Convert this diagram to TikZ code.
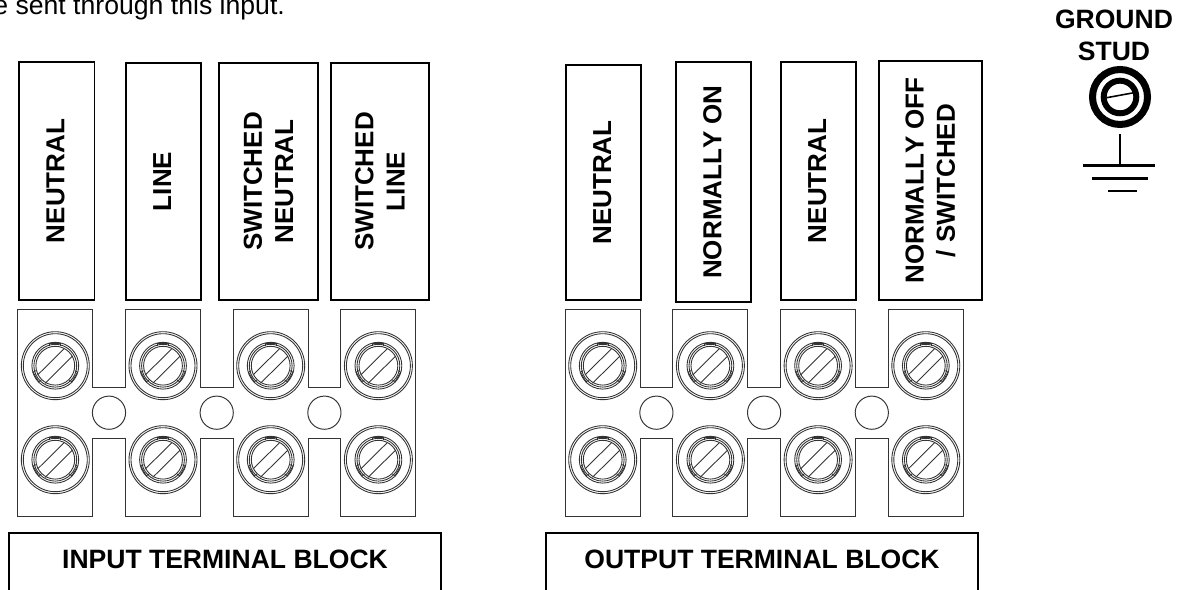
\documentclass[tikz,border=0pt]{standalone}
\usepackage{fontspec}
\setmainfont[Kerning=Off]{Liberation Sans}
\usepackage{tikz}
\newcommand{\labelfont}{\bfseries\fontsize{14.8}{17.8}\selectfont}
\newcommand{\titlefont}{\bfseries\fontsize{15.1}{17.8}\selectfont}

\begin{document}
\begin{tikzpicture}[x=0.02cm,y=-0.02cm,
  tag node/.style={draw,line width=1.1pt,rotate=90,align=center,inner sep=0pt,font=\labelfont},
  one line/.style={text depth=1.5pt},
  two line/.style={},
  title node/.style={inner sep=0pt,align=center,font=\titlefont},
  block line/.style={line width=0.55pt,draw=black!80},
  ring line/.style={line width=0.5pt,draw=black!80},
  frame line/.style={line width=1.1pt},
  earth line/.style={line width=1.2pt}]

  \useasboundingbox (0,0) rectangle (1189,590);

  \node[anchor=base west,inner sep=0pt,font=\fontsize{15.15}{18}\selectfont] (note) at (-7,15) {e sent through this input.};

  % label boxes
  \foreach \name/\xa/\xb/\ya/\yb/\sty/\txt in {
    in1/19/94.5/62/300/one line/NEUTRAL,
    in2/126/201/63/300/one line/LINE,
    in3/219/318/63/300/two line/{SWITCHED\\NEUTRAL},
    in4/331/429/63/300/two line/{SWITCHED\\LINE},
    out1/566/641/65/300/one line/NEUTRAL,
    out2/676/751/62/302/one line/NORMALLY ON,
    out3/781/856/62/300/one line/NEUTRAL,
    out4/879/982/61/300/two line/{NORMALLY OFF\\/ SWITCHED}}{
  \node[tag node,\sty,minimum width={(\yb-\ya)*0.02cm},minimum height={(\xb-\xa)*0.02cm}] (\name) at ({(\xa+\xb)/2},{(\ya+\yb)/2}) {\txt};
}

  % terminal blocks
  \foreach \d/\side in {0/in,547.4/out}{
  \begin{scope}[shift={(\d,0)}]
    \draw[block line] (17.7,309.3) -- (92.7,309.3) -- (92.7,387) -- (125.4,387) -- (125.4,309.3)
      -- (200.4,309.3) -- (200.4,387) -- (233.1,387) -- (233.1,309.3)
      -- (308.1,309.3) -- (308.1,387) -- (340.8,387) -- (340.8,309.3)
      -- (415.8,309.3) -- (415.8,516) -- (340.8,516) -- (340.8,438.3) -- (308.1,438.3) -- (308.1,516)
      -- (233.1,516) -- (233.1,438.3) -- (200.4,438.3) -- (200.4,516)
      -- (125.4,516) -- (125.4,438.3) -- (92.7,438.3) -- (92.7,516) -- (17.7,516) -- cycle;
    \foreach \a in {0,1,2}{
      \draw[block line] ({109+\a*107.7},412.7) circle (16.6);
    }
    \foreach \a in {0,1,2,3}{
    \foreach \y in {365.7,459.7}{
      \begin{scope}[shift={({55.3+\a*107.7},\y)}]
        \draw[ring line] (0,0) circle (34) (0,0) circle (32);
        \draw[ring line] (0,0) circle (23.4) (0,0) circle (21.4) (0,0) circle (19.4);
        \draw[ring line] (-17.7,9.3) -- (8.7,-16.9) (-10.3,17.7) -- (17.3,-9.7);
        \foreach \r in {0,120,240}{
          \draw[ring line,rotate=\r] (-5.5,-19.4) -- (-5.5,-22.5) -- (5.5,-22.5) -- (5.5,-19.4);
        }
      \end{scope}
    }
    }
  \end{scope}
}

  % captions
  \draw[frame line] (9,590) -- (9,533.3) -- (441,533.3) -- (441,590);
  \draw[frame line] (545.7,590) -- (545.7,533.3) -- (978.3,533.3) -- (978.3,590);
  \node[title node] (inbl) at (225,559.5) {INPUT TERMINAL BLOCK};
  \node[title node] (outbl) at (762,559.5) {OUTPUT TERMINAL BLOCK};

  % ground stud
  \node[title node] (gndtxt) at (1114,35.5) {GROUND\\STUD};
  \draw[line width=4pt] (1120,97) circle (27.5);
  \draw[line width=3.4pt] (1120,97) circle (16.3);
  \draw[line width=0.9pt] (1106.7,97.7) -- (1134,92.7);
  \coordinate (gndtop) at (1120,134);
  \coordinate (gndmid) at (1120,165.5);
  \draw[earth line] (gndtop) -- (gndmid);
  \draw[earth line] (1083,165.5) -- (1155,165.5);
  \draw[earth line] (1092,178.5) -- (1148,178.5);
  \draw[earth line] (1108,191) -- (1137,191);
\end{tikzpicture}
\end{document}
